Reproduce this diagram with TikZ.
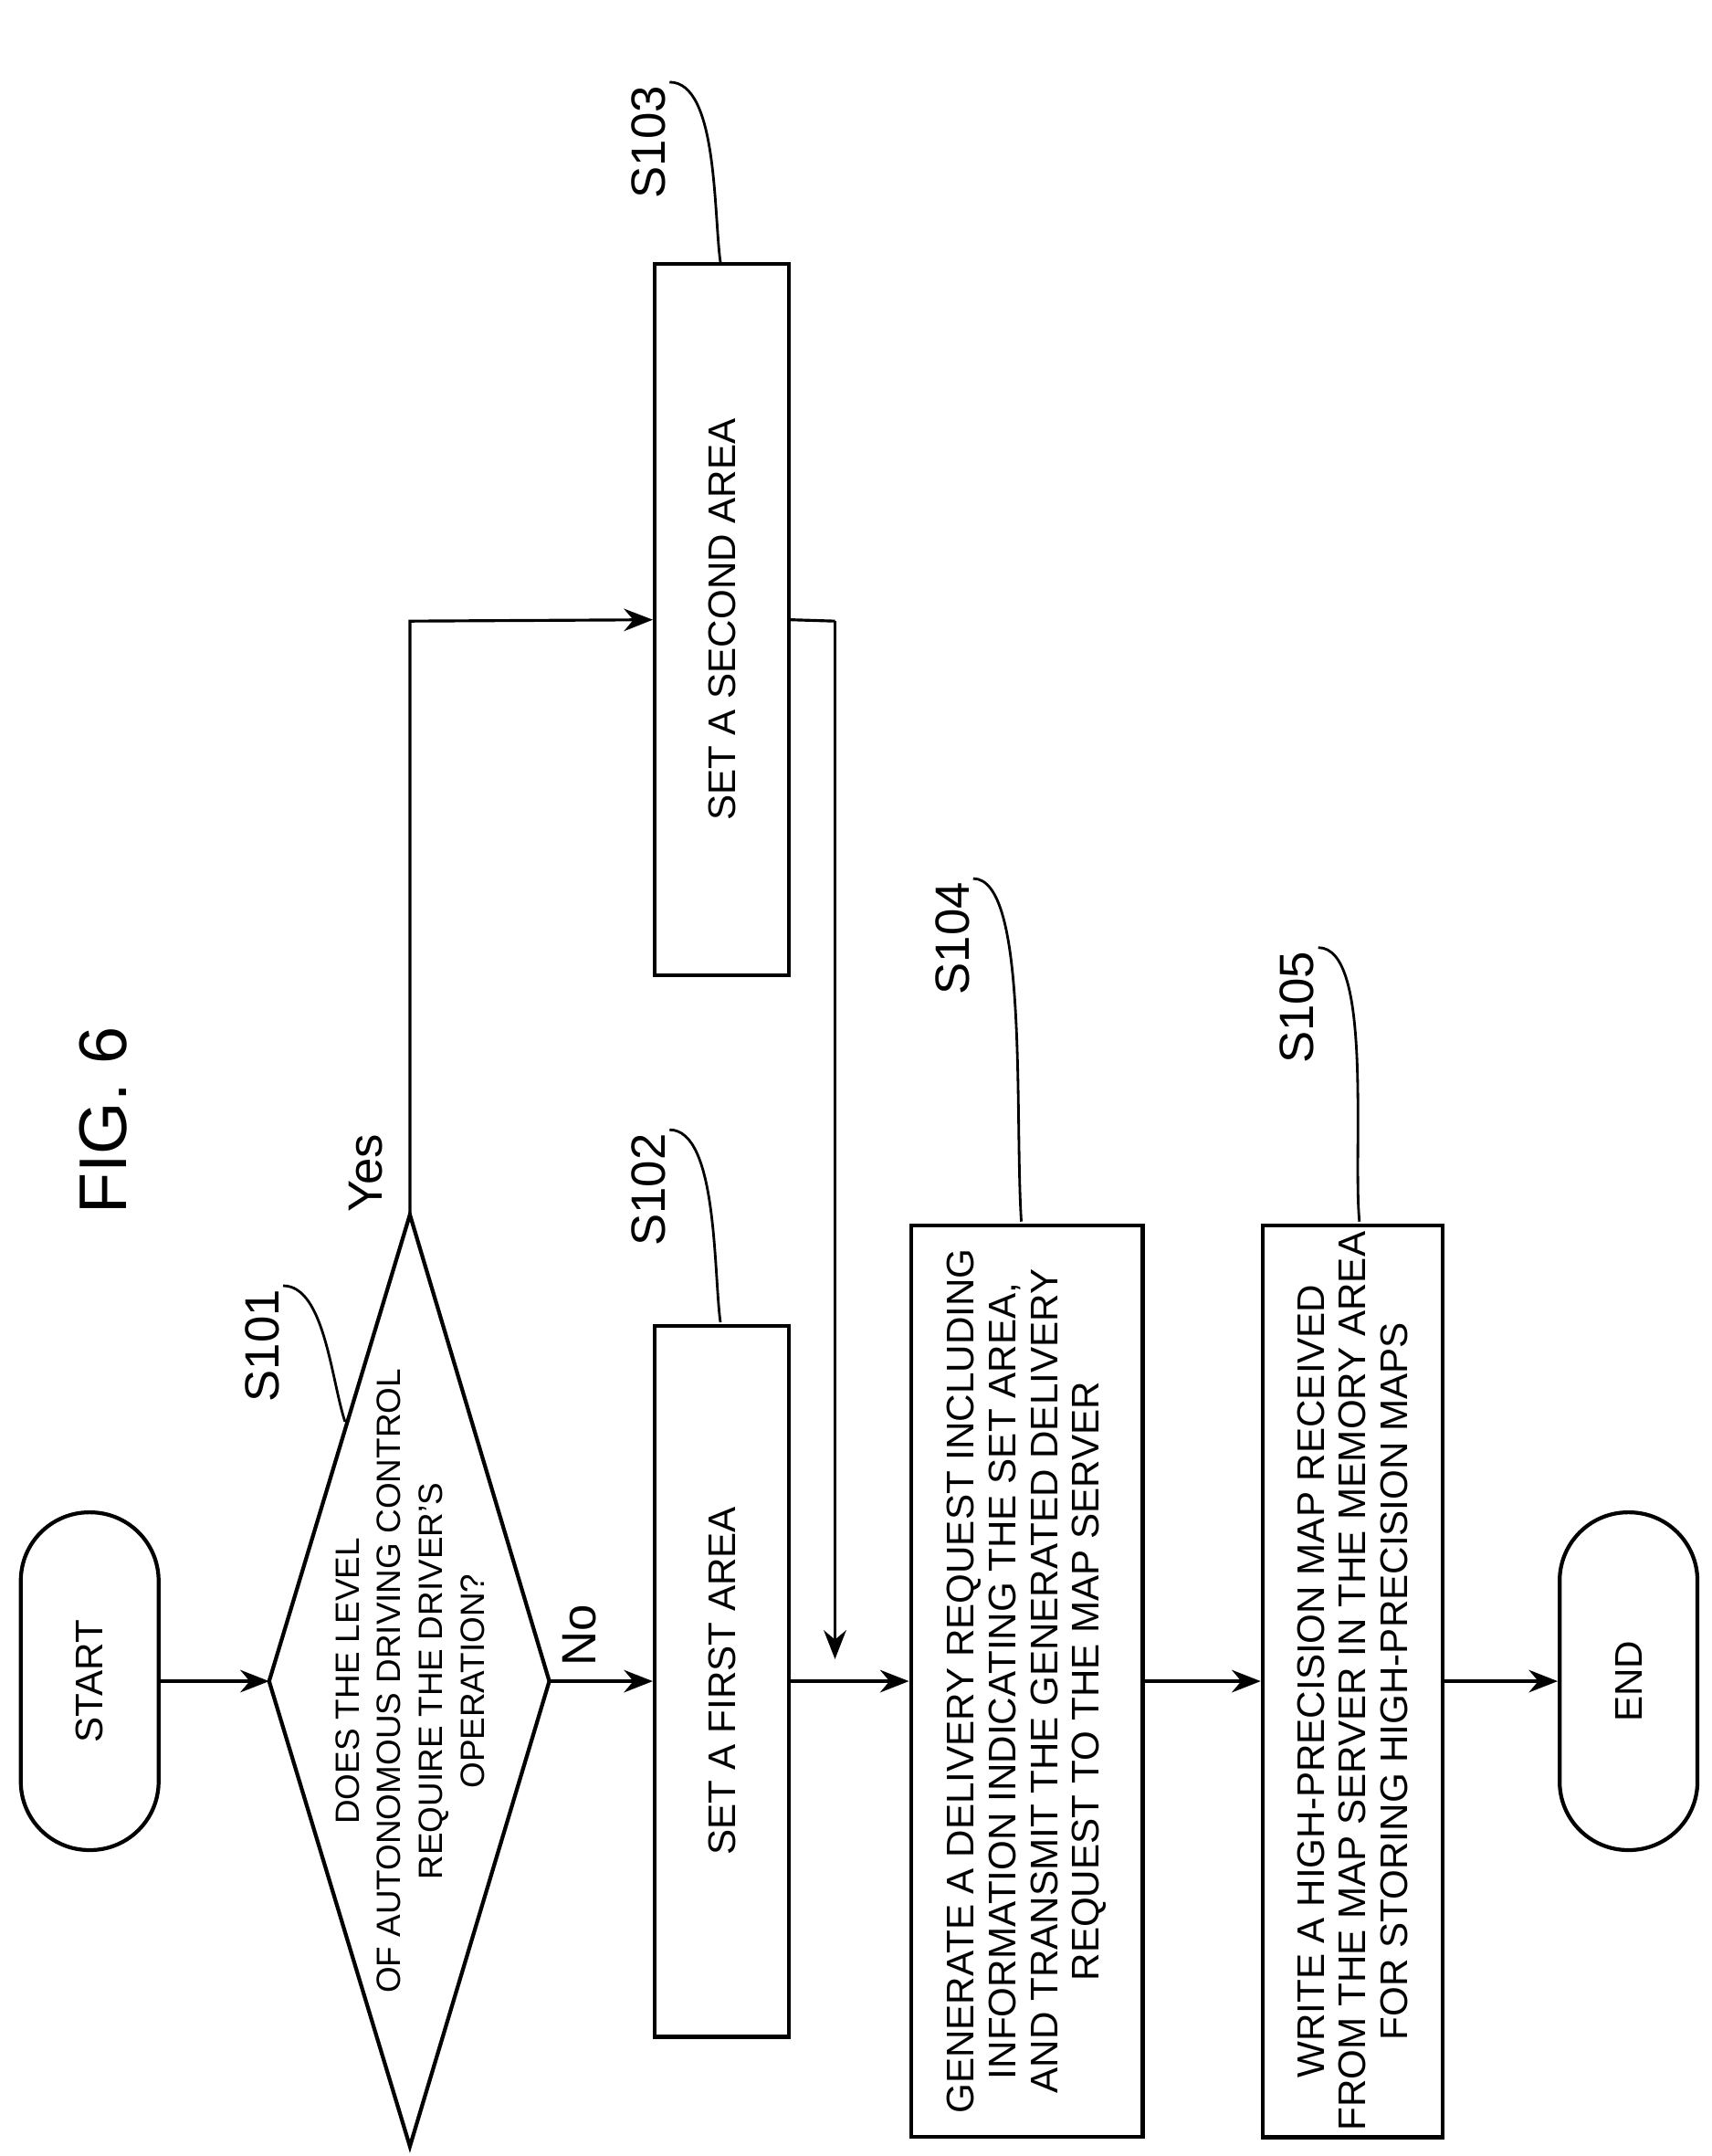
\documentclass[tikz,border=0pt]{standalone}
\usepackage{fontspec}
\setmainfont{Liberation Sans}
\usetikzlibrary{arrows.meta}

\begin{document}
\begin{tikzpicture}[
    x=0.01512cm, y=-0.01512cm,
    proc/.style={draw, line width=1.2pt, rotate=90, minimum height=1.47cm, minimum width=7.79cm, inner sep=2pt, font=\fontsize{12}{13}\selectfont, align=center},
    term/.style={draw, line width=1.2pt, rotate=90, rounded corners=0.75cm, minimum width=3.7cm, minimum height=1.51cm, font=\fontsize{12}{13}\selectfont},
    steplab/.style={rotate=90, font=\fontsize{15}{17}\selectfont, inner sep=1pt},
    arrow/.style={-{Stealth[length=9pt,width=7pt]}, line width=0.9pt},
    lead/.style={line width=0.8pt}]

\useasboundingbox (0,0) rectangle (1240,1562);

% Title
\node[rotate=90, font=\fontsize{21}{23}\selectfont] (fig) at (75,812) {FIG. 6};

% Terminals
\node[term] (start) at (65,1218) {START};
\node[term] (end) at (1180,1218) {END};

% Decision S101
\coordinate (dl) at (195,1218);
\coordinate (dr) at (398,1218);
\coordinate (dt) at (297,880);
\coordinate (db) at (297,1555);
\draw[line width=1.2pt] (dl) -- (dt) -- (dr) -- (db) -- cycle;
\node[rotate=90, align=center, font=\fontsize{10.5}{13}\selectfont] (q) at (297,1218)
  {DOES THE LEVEL\\OF AUTONOMOUS DRIVING CONTROL\\REQUIRE THE DRIVER'S\\OPERATION?};

% Steps
\node[proc] (s102) at (523,1218) {SET A FIRST AREA};
\node[proc] (s103) at (523,449) {SET A SECOND AREA};
\node[proc, minimum width=9.98cm, minimum height=2.54cm] (s104) at (744,1218)
  {GENERATE A DELIVERY REQUEST INCLUDING\\INFORMATION INDICATING THE SET AREA,\\AND TRANSMIT THE GENERATED DELIVERY\\REQUEST TO THE MAP SERVER};
\node[proc, minimum width=9.98cm, minimum height=1.97cm] (s105) at (980,1218)
  {WRITE A HIGH-PRECISION MAP RECEIVED\\FROM THE MAP SERVER IN THE MEMORY AREA\\FOR STORING HIGH-PRECISION MAPS};

% Flow
\coordinate (yes) at (297,450);
\coordinate (join) at (605,450);
\coordinate (merge) at (605,1202);
\draw[arrow] (start.south) -- (dl);
\draw[arrow] (dr) -- (s102.north);
\draw[arrow] (dt) -- (yes) -- (s103.north);
\draw[line width=0.9pt] (s103.south) -- (join);
\draw[arrow] (join) -- (merge);
\draw[arrow] (s102.south) -- (s104.north);
\draw[arrow] (s104.south) -- (s105.north);
\draw[arrow] (s105.south) -- (end.north);

\node[steplab] (no) at (420,1185) {No};
\node[steplab] (yeslab) at (265,850) {Yes};

% Step labels
\node[steplab] (l101) at (190,975) {S101};
\node[steplab] (l102) at (470,862) {S102};
\node[steplab] (l103) at (470,103) {S103};
\node[steplab] (l104) at (690,680) {S104};
\node[steplab] (l105) at (940,730) {S105};
\coordinate (e101) at (250,1030);
\coordinate (e102) at (522,958);
\coordinate (e103) at (522,190);
\coordinate (e104) at (740,885);
\coordinate (e105) at (985,885);
\draw[lead] (l101.south east) .. controls +(30,0) and +(-10,-30) .. (e101);
\draw[lead] (l102.south east) .. controls +(35,0) and +(-5,-35) .. (e102);
\draw[lead] (l103.south east) .. controls +(35,0) and +(-5,-35) .. (e103);
\draw[lead] (l104.south east) .. controls +(40,0) and +(-5,-80) .. (e104);
\draw[lead] (l105.south east) .. controls +(40,0) and +(-5,-50) .. (e105);

\end{tikzpicture}
\end{document}
